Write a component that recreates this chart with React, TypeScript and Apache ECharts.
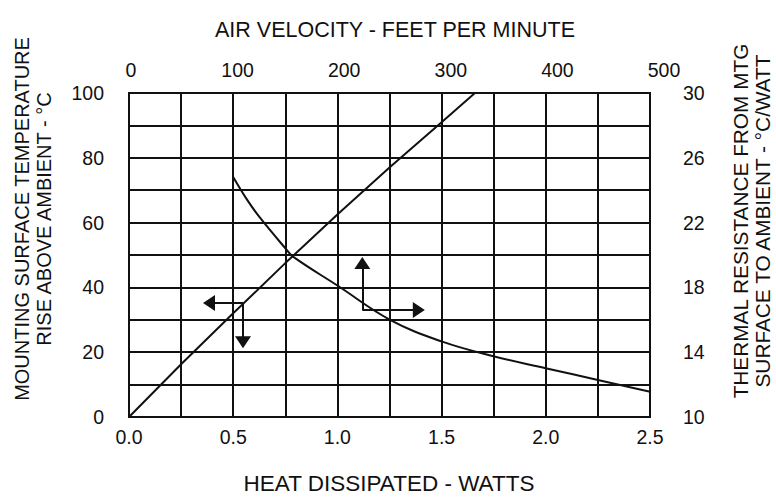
import React, { useEffect, useRef } from "react";
import * as echarts from "echarts";

// Heat dissipated (W) vs mounting surface temperature rise (°C)
const heatWatts = [0, 0.25, 0.5, 0.75, 1.0, 1.25, 1.5, 1.66];
const tempRise = [0, 16.3, 32, 47.5, 62.5, 77, 91, 100];

// Air velocity (ft/min) vs thermal resistance (°C/W)
const airFpm = [96, 109, 121, 145, 152, 194, 243, 292, 340, 390, 439, 487];
const thermalRes = [24.8, 23.4, 22.3, 20.4, 19.9, 18.1, 16.0, 14.65, 13.75, 13.0, 12.27, 11.56];

// Arrow annotations (data coordinates)
const leftArrowStart = [0.547, 35.2];
const leftArrowHorizEnd = [0.384, 35.2];
const leftArrowVertEnd = [0.547, 23.1];
const rightArrowStart = [217, 16.6];
const rightArrowVertEnd = [217, 19.5];
const rightArrowHorizEnd = [270, 16.6];

const FONT = "Liberation Sans";
const INK = "#111";

export default function App() {
  const ref = useRef<HTMLDivElement>(null);
  useEffect(() => {
    if (!ref.current) return;
    const chart = echarts.init(ref.current, undefined, { renderer: "svg" });
    const labelStyle = { color: INK, fontSize: 19.5, fontFamily: FONT };
    const arrowLine = { color: INK, width: 2, type: "solid" as const };
    chart.setOption({
      animation: false,
      backgroundColor: "#fff",
      grid: [
        {
          left: 129, right: 126, top: 93, bottom: 80,
          show: true, borderColor: INK, borderWidth: 2, containLabel: false,
        },
        { left: 131, right: 112, top: 93, bottom: 80, show: false },
      ],
      xAxis: [
        {
          gridIndex: 0, type: "value", position: "bottom",
          min: 0, max: 2.5, interval: 0.25,
          axisLine: { show: false }, axisTick: { show: false },
          splitLine: { show: true, lineStyle: { color: INK, width: 2 } },
          axisLabel: {
            ...labelStyle, margin: 10,
            formatter: (v: number) => (Math.round(v * 100) % 50 === 0 ? v.toFixed(1) : ""),
          },
        },
        {
          gridIndex: 1, type: "value", position: "top",
          min: 0, max: 500, interval: 100,
          axisLine: { show: false }, axisTick: { show: false },
          splitLine: { show: false },
          axisLabel: { ...labelStyle, margin: 13 },
        },
      ],
      yAxis: [
        {
          gridIndex: 0, type: "value", position: "left",
          min: 0, max: 100, interval: 10,
          axisLine: { show: false }, axisTick: { show: false },
          splitLine: { show: true, lineStyle: { color: INK, width: 2 } },
          axisLabel: {
            ...labelStyle, margin: 25,
            formatter: (v: number) => (v % 20 === 0 ? String(v) : ""),
          },
        },
        {
          gridIndex: 0, type: "value", position: "right",
          min: 10, max: 30, interval: 2,
          axisLine: { show: false }, axisTick: { show: false },
          splitLine: { show: false },
          axisLabel: {
            ...labelStyle, margin: 33,
            formatter: (v: number) => ((v - 10) % 4 === 0 ? String(v) : ""),
          },
        },
        {
          gridIndex: 1, type: "value", position: "right",
          min: 10, max: 30, show: false,
        },
      ],
      series: [
        {
          type: "line", xAxisIndex: 0, yAxisIndex: 0,
          data: heatWatts.map((w, i) => [w, tempRise[i]]),
          showSymbol: false, symbol: "none", smooth: false,
          lineStyle: { color: INK, width: 2 }, silent: true,
          markLine: {
            silent: true, symbol: ["none", "triangle"], symbolSize: [16, 12],
            label: { show: false }, lineStyle: arrowLine,
            data: [
              [{ coord: leftArrowStart }, { coord: leftArrowHorizEnd }],
              [{ coord: leftArrowStart }, { coord: leftArrowVertEnd }],
            ],
          },
        },
        {
          type: "line", xAxisIndex: 1, yAxisIndex: 2,
          data: airFpm.map((f, i) => [f, thermalRes[i]]),
          showSymbol: false, symbol: "none", smooth: 0.4,
          lineStyle: { color: INK, width: 2 }, silent: true,
          markLine: {
            silent: true, symbol: ["none", "triangle"], symbolSize: [16, 12],
            label: { show: false }, lineStyle: arrowLine,
            data: [
              [{ coord: rightArrowStart }, { coord: rightArrowVertEnd }],
              [{ coord: rightArrowStart }, { coord: rightArrowHorizEnd }],
            ],
          },
        },
      ],
      graphic: [
        {
          type: "text", x: 395, y: 30,
          style: { text: "AIR VELOCITY - FEET PER MINUTE", fill: INK, font: `21.5px "${FONT}"`, textAlign: "center", textVerticalAlign: "middle" },
        },
        {
          type: "text", x: 389, y: 483,
          style: { text: "HEAT DISSIPATED - WATTS", fill: INK, font: `22.5px "${FONT}"`, textAlign: "center", textVerticalAlign: "middle" },
        },
        {
          type: "text", x: 33, y: 219, rotation: Math.PI / 2,
          style: { text: "MOUNTING SURFACE TEMPERATURE\nRISE ABOVE AMBIENT - °C", fill: INK, font: `20px "${FONT}"`, lineHeight: 22, textAlign: "center", textVerticalAlign: "middle" },
        },
        {
          type: "text", x: 751, y: 221, rotation: Math.PI / 2,
          style: { text: "THERMAL RESISTANCE FROM MTG\nSURFACE TO AMBIENT - °C/WATT", fill: INK, font: `20.8px "${FONT}"`, lineHeight: 22, textAlign: "center", textVerticalAlign: "middle" },
        },
      ],
    });
    return () => chart.dispose();
  }, []);
  return <div ref={ref} style={{ position: "absolute", left: 0, top: 0, width: 776, height: 497 }} />;
}
